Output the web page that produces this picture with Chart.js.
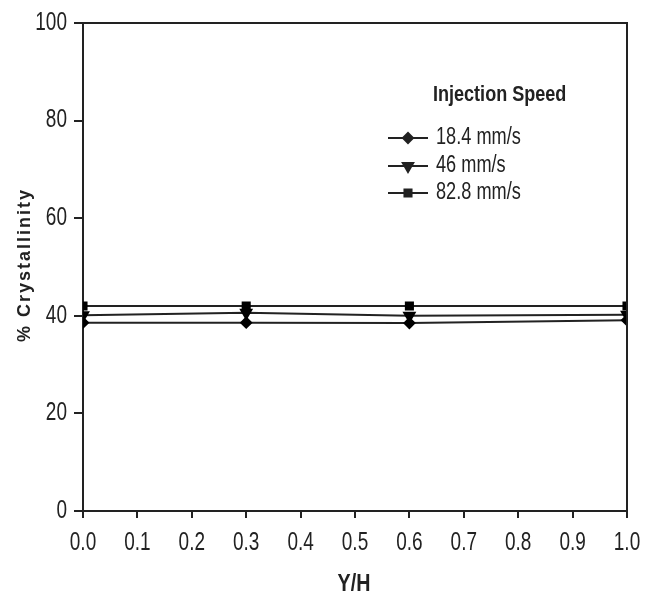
<!DOCTYPE html>
<html><head><meta charset="utf-8">
<script src="https://cdn.jsdelivr.net/npm/chart.js@4"></script>
<style>html,body{margin:0;padding:0;background:#fff}#wrap{width:649px;height:599px;position:relative}</style>
</head><body><div id="wrap"><canvas id="c" width="649" height="599"></canvas></div>
<script>
const xPositions = [0.0, 0.3, 0.6, 1.0];
const speed184 = [38.6, 38.6, 38.5, 39.1];
const speed46 = [40.1, 40.6, 40.0, 40.2];
const speed828 = [42.0, 42.0, 42.0, 42.0];
const seriesLabels = ['18.4 mm/s', '46 mm/s', '82.8 mm/s'];
const xTickValues = [0, 0.1, 0.2, 0.3, 0.4, 0.5, 0.6, 0.7, 0.8, 0.9, 1.0];
const legendTitle = 'Injection Speed';
const xTitle = 'Y/H';
const yTitle = '% Crystallinity';

const SANS = "'Liberation Sans', Arial, sans-serif";
const INK = '#222';

function pts(vals){ return xPositions.map((x,i)=>({x:x, y:vals[i]})); }

// draw horizontally condensed text (emulates a narrow face)
function narrowText(ctx, text, x, y, font, sx, align){
  ctx.save();
  ctx.font = font;
  ctx.textBaseline = 'middle';
  ctx.textAlign = 'left';
  const w = ctx.measureText(text).width * sx;
  let x0 = x;
  if (align === 'center') x0 = x - w/2;
  else if (align === 'right') x0 = x - w;
  ctx.translate(x0, y);
  ctx.scale(sx, 1);
  ctx.fillText(text, 0, 0);
  ctx.restore();
}

const frame = {
  id:'frame',
  afterDatasetsDraw(chart){
    const {ctx, chartArea:a} = chart;
    const xs = chart.scales.x, ysc = chart.scales.y;
    ctx.save();
    ctx.strokeStyle = INK; ctx.lineWidth = 2;
    ctx.beginPath();
    ctx.moveTo(a.left, a.top); ctx.lineTo(a.right, a.top); ctx.lineTo(a.right, a.bottom);
    ctx.stroke();
    ctx.fillStyle = INK;
    // tick labels from the library's scales
    const tickFont = "25px " + SANS;
    xs.ticks.forEach(t => {
      narrowText(ctx, Number(t.value).toFixed(1), xs.getPixelForValue(t.value), 543, tickFont, 0.76, 'center');
    });
    ysc.ticks.forEach(t => {
      narrowText(ctx, String(t.value), 67, ysc.getPixelForValue(t.value), tickFont, 0.76, 'right');
    });
    // legend
    narrowText(ctx, legendTitle, 433, 95, "bold 22px " + SANS, 0.82, 'left');
    const ys = [138, 166, 193];
    chart.data.datasets.forEach((ds, i) => {
      const y = ys[i];
      ctx.strokeStyle = INK; ctx.lineWidth = 2;
      ctx.beginPath(); ctx.moveTo(388, y); ctx.lineTo(428, y); ctx.stroke();
      Chart.helpers.drawPoint(ctx, {pointStyle: ds.pointStyle, radius: ds.pointRadius, rotation: ds.pointRotation || 0, borderWidth: 1}, 408, y);
      ctx.fillStyle = INK;
      narrowText(ctx, ds.label, 436, y, "23px " + SANS, 0.79, 'left');
    });
    // axis titles
    narrowText(ctx, xTitle, 354, 584, "bold 24px " + SANS, 0.82, 'center');
    ctx.save();
    ctx.translate(25, 265);
    ctx.rotate(-Math.PI/2);
    ctx.font = "bold 18px " + SANS;
    ctx.letterSpacing = '2px';
    ctx.textAlign = 'center'; ctx.textBaseline = 'middle';
    ctx.fillText(yTitle, 0, 0);
    ctx.restore();
    ctx.restore();
  }
};

const mk = (label, vals, style, rot, r) => ({
  label, data: pts(vals), borderColor: INK, backgroundColor: '#000', borderWidth: 2,
  pointStyle: style, pointRotation: rot, pointRadius: r, pointBorderColor:'#000', pointBackgroundColor:'#000', tension: 0
});

new Chart(document.getElementById('c'), {
  type: 'line',
  data: { datasets: [
    mk(seriesLabels[0], speed184, 'rectRot', 0, 5),
    mk(seriesLabels[1], speed46, 'triangle', 180, 6),
    mk(seriesLabels[2], speed828, 'rect', 0, 5)
  ]},
  options: {
    responsive: false, animation: false,
    layout: { padding: { top: 23, right: 22, left: 0, bottom: 0 } },
    plugins: { legend: { display: false }, tooltip: { enabled: false } },
    scales: {
      x: {
        type: 'linear', min: 0, max: 1,
        afterBuildTicks(s){ s.ticks = xTickValues.map(v=>({value:v})); },
        afterFit(s){ s.height = 88; },
        ticks: { display: false, autoSkip: false },
        grid: { drawOnChartArea: false, drawTicks: true, tickLength: 7, color: INK, lineWidth: 2 },
        border: { display: true, color: INK, width: 2 },
        title: { display: false }
      },
      y: {
        min: 0, max: 100,
        afterFit(s){ s.width = 83; },
        ticks: { display: false, stepSize: 20 },
        grid: { drawOnChartArea: false, drawTicks: true, tickLength: 9, color: INK, lineWidth: 2 },
        border: { display: true, color: INK, width: 2 },
        title: { display: false }
      }
    }
  },
  plugins: [frame]
});
</script></body></html>
